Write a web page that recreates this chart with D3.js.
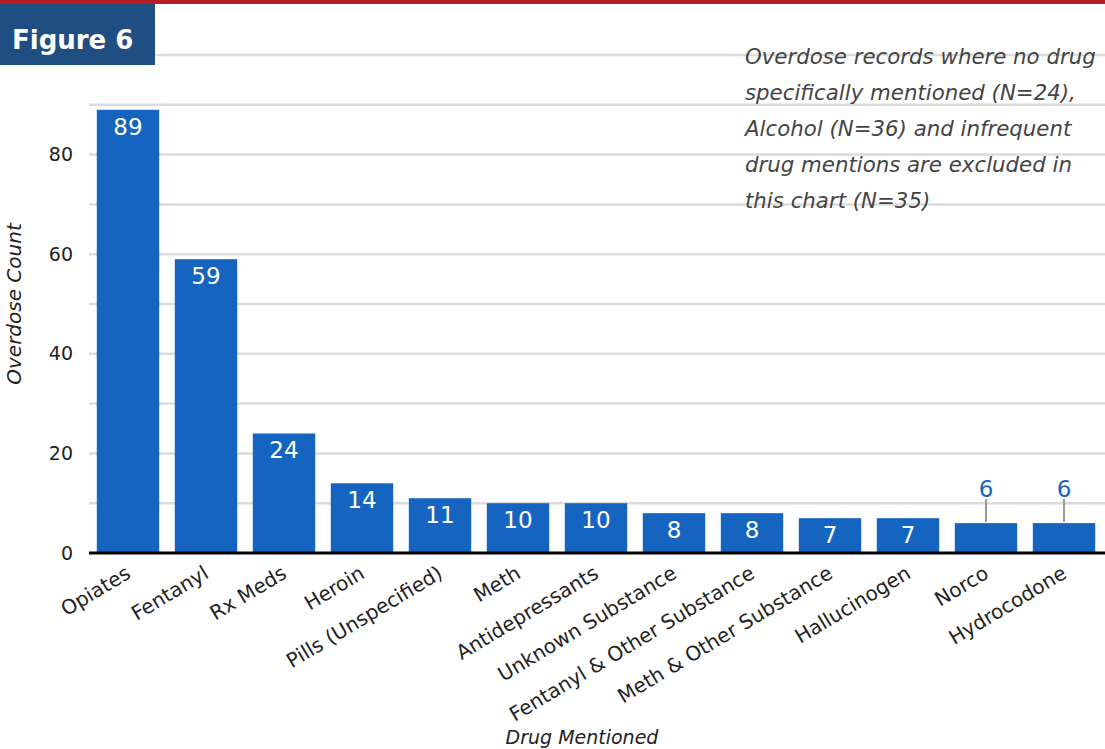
<!DOCTYPE html>
<html><head><meta charset="utf-8">
<script src="https://cdn.jsdelivr.net/npm/d3@7"></script>
<style>html,body{margin:0;padding:0;background:#fff;}svg{display:block;}</style>
</head><body>
<script>
const categories = ["Opiates","Fentanyl","Rx Meds","Heroin","Pills (Unspecified)","Meth","Antidepressants","Unknown Substance","Fentanyl & Other Substance","Meth & Other Substance","Hallucinogen","Norco","Hydrocodone"];
const values = [89,59,24,14,11,10,10,8,8,7,7,6,6];
const yTicks = [0,20,40,60,80];
const gridValues = [0,10,20,30,40,50,60,70,80,90,100];
const noteLines = ["Overdose records where no drug","specifically mentioned (N=24),","Alcohol (N=36) and infrequent","drug mentions are excluded in","this chart (N=35)"];

const W = 1105, H = 749;
const FONT = "'DejaVu Sans', sans-serif";
const svg = d3.select("body").append("svg").attr("width", W).attr("height", H);

const x = d3.scaleBand().domain(categories).range([89, 1103]).paddingInner(0.2).paddingOuter(0.1);
const y = d3.scaleLinear().domain([0, 100]).range([553, 55]);

// top red rule
svg.append("rect").attr("x",0).attr("y",0).attr("width",W).attr("height",4).attr("fill","#b71c22");

// gridlines
svg.append("g").selectAll("line").data(gridValues.filter(d=>d>0)).join("line")
  .attr("x1",89).attr("x2",W).attr("y1",d=>y(d)).attr("y2",d=>y(d))
  .attr("stroke","#dcdcdc").attr("stroke-width",2.5);

// figure box
svg.append("rect").attr("x",0).attr("y",4).attr("width",155).attr("height",61).attr("fill","#1f4e82");
svg.append("text").attr("x",12).attr("y",49).attr("fill","#fff").attr("font-family",FONT)
  .attr("font-weight","bold").attr("font-size",26).text("Figure 6");

// annotation
const note = svg.append("text").attr("font-family",FONT).attr("font-style","italic").attr("font-size",21.3).attr("fill","#444");
noteLines.forEach((t,i)=> note.append("tspan").attr("x",745).attr("y",64+i*36).text(t));

// bars
svg.append("g").selectAll("rect").data(values).join("rect")
  .attr("x",(d,i)=>x(categories[i])).attr("width",x.bandwidth())
  .attr("y",d=>y(d)).attr("height",d=>y(0)-y(d)).attr("fill","#1565c0");

// value labels
const labG = svg.append("g").attr("font-family",FONT).attr("font-size",23).attr("text-anchor","middle");
values.forEach((v,i)=>{
  const cx = x(categories[i]) + x.bandwidth()/2;
  if (y(0)-y(v) >= 33) {
    labG.append("text").attr("x",cx).attr("y",y(v)+25).attr("fill","#fff").text(v);
  } else {
    labG.append("line").attr("x1",cx).attr("x2",cx).attr("y1",y(v)-1).attr("y2",y(v)-24)
      .attr("stroke","#999").attr("stroke-width",2);
    labG.append("text").attr("x",cx).attr("y",y(v)-26).attr("fill","#1565c0").text(v);
  }
});

// baseline
svg.append("line").attr("x1",89).attr("x2",W).attr("y1",y(0)).attr("y2",y(0)).attr("stroke","#000").attr("stroke-width",3);

// y axis
const yAxis = svg.append("g").attr("transform","translate(73,0)")
  .call(d3.axisLeft(y).tickValues(yTicks).tickSize(0).tickPadding(0));
yAxis.select(".domain").remove();
yAxis.selectAll("text").attr("font-family",FONT).attr("font-size",19).attr("fill","#222");

// x axis labels
const xAxis = svg.append("g").attr("transform",`translate(0,${y(0)})`)
  .call(d3.axisBottom(x).tickSize(0).tickPadding(0));
xAxis.select(".domain").remove();
xAxis.selectAll("text").attr("font-family",FONT).attr("font-size",20).attr("fill","#222")
  .attr("text-anchor","end").attr("dy",null).attr("y",0)
  .attr("transform","translate(4,24) rotate(-31)");

// axis titles
svg.append("text").attr("transform","translate(21,304) rotate(-90)").attr("text-anchor","middle")
  .attr("font-family",FONT).attr("font-style","italic").attr("font-size",20).attr("fill","#222").text("Overdose Count");
svg.append("text").attr("x",582).attr("y",744).attr("text-anchor","middle")
  .attr("font-family",FONT).attr("font-style","italic").attr("font-size",19).attr("fill","#222").text("Drug Mentioned");
</script>
</body></html>
